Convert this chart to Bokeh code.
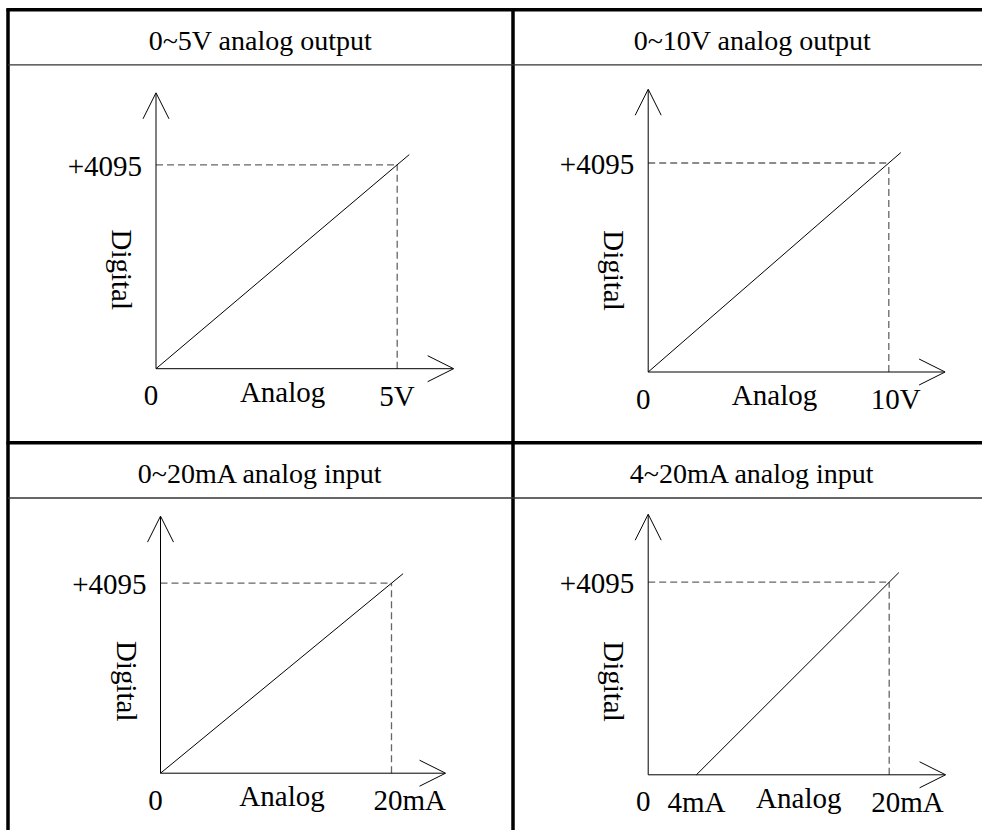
import math
from bokeh.plotting import figure
from bokeh.models import Range1d, Arrow, OpenHead
from bokeh.core.properties import value
from bokeh.embed import file_html
from bokeh.resources import INLINE

# ---------------- data ----------------
titles = ["0~5V analog output", "0~10V analog output",
          "0~20mA analog input", "4~20mA analog input"]
x_start = [0, 0, 0, 4]          # analog value where the digital value is 0
x_full = [5, 10, 20, 20]        # analog full scale
x_unit = ["V", "V", "mA", "mA"]
digital_full = [4095, 4095, 4095, 4095]
x_axis_label = "Analog"
y_axis_label = "Digital"

# ---------------- layout (canvas pixels, y downward) ----------------
W, H = 982, 830
# origin x, origin y, full-scale x pixel, full-scale y pixel
panel_px = [
    (155.5, 368.2, 396.7, 164.3),
    (647.7, 371.5, 888.3, 162.5),
    (160.0, 772.7, 391.0, 582.7),
    (647.7, 774.3, 888.7, 581.7),
]
title_pos = [(260, 40.0), (752, 40.0), (260, 473.3), (752, 473.3)]
FONT = value("Liberation Serif")
Y_ARROW = 1.353   # y-axis arrow length relative to full scale
X_ARROW = 1.234   # x-axis arrow length relative to full scale
OVERSHOOT = 1.05  # transfer line runs slightly past full scale

p = figure(width=W, height=H, output_backend="svg", toolbar_location=None,
           x_range=Range1d(0, W), y_range=Range1d(H, 0), min_border=0,
           outline_line_color=None, background_fill_color="white",
           border_fill_color="white")
p.axis.visible = False
p.grid.visible = False

# table frame
p.segment(x0=[6, 7.5, 512.5, 6], y0=[9.3, 8, 8, 442.3],
          x1=[W, 7.5, 512.5, W], y1=[9.3, H, H, 442.3],
          line_color="black", line_width=3.5)
p.segment(x0=[7.5, 7.5], y0=[64.3, 497.5], x1=[W, W], y1=[64.3, 497.5],
          line_color="#333333", line_width=1.3)

# titles
p.text(x=[t[0] for t in title_pos], y=[t[1] for t in title_pos], text=titles,
       text_font=FONT, text_font_size="28px", text_color="black",
       text_align="center", text_baseline="middle")

for i in range(4):
    ox, oy, xm, ym = panel_px[i]
    xf, x0, yf = x_full[i], x_start[i], digital_full[i]
    sx = (xm - ox) / xf
    sy = (oy - ym) / yf
    name = f"p{i}"
    p.extra_x_ranges[name] = Range1d(start=(0 - ox) / sx, end=(W - ox) / sx)
    p.extra_y_ranges[name] = Range1d(start=(oy - H) / sy, end=oy / sy)
    kw = dict(x_range_name=name, y_range_name=name)

    # axes as arrows
    for xe, ye in [(0, yf * Y_ARROW), (xf * X_ARROW, 0)]:
        p.add_layout(Arrow(x_start=0, y_start=0, x_end=xe, y_end=ye,
                           line_color="black", line_width=1,
                           end=OpenHead(size=26, line_width=1, line_color="black"),
                           **kw))

    # dashed guides
    p.line(x=[0, xf], y=[yf, yf], line_color="#666666", line_width=1.3,
           line_dash="7 4", **kw)
    p.line(x=[xf, xf], y=[0, yf], line_color="#666666", line_width=1.3,
           line_dash="7 4", **kw)

    # transfer line
    p.line(x=[x0, x0 + (xf - x0) * OVERSHOOT], y=[0, yf * OVERSHOOT],
           line_color="black", line_width=1, **kw)

    # labels
    lab = dict(text_font=FONT, text_font_size="29px", text_color="black",
               text_baseline="middle", **kw)
    p.text(x=[0], y=[yf], text=[f"+{yf}"], x_offset=-14, y_offset=1.5,
           text_align="right", **lab)
    p.text(x=[0], y=[0], text=["0"], x_offset=-5, y_offset=27,
           text_align="center", **lab)
    if x0 != 0:
        p.text(x=[x0], y=[0], text=[f"{x0}{x_unit[i]}"], y_offset=27,
               text_align="center", **lab)
    p.text(x=[xf], y=[0], text=[f"{xf}{x_unit[i]}"], x_offset=-18, y_offset=27,
           text_align="left", **lab)
    p.text(x=[(x0 + xf) / 2], y=[0], text=[x_axis_label], x_offset=6, y_offset=23,
           text_align="center", **lab)
    p.text(x=[0], y=[yf / 2], text=[y_axis_label], x_offset=-34, y_offset=3,
           angle=-math.pi / 2, text_align="center", **lab)

open("out.html", "w").write(file_html(p, INLINE, title="Analog conversion"))
